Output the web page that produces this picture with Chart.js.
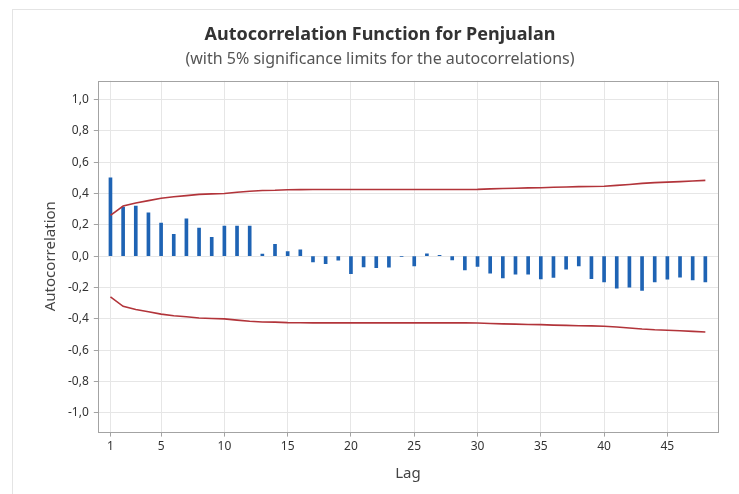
<!DOCTYPE html>
<html>
<head>
<meta charset="utf-8">
<script src="https://cdn.jsdelivr.net/npm/chart.js@4.4.1/dist/chart.umd.min.js"></script>
<style>
    html, body { margin: 0; padding: 0; background: #fff; }
    #frame {
        position: absolute; left: 12px; top: 9px; width: 760px; height: 520px;
        border: 1px solid #e4e4e4;
    }
    #wrap { position: absolute; left: 0; top: 0; width: 739px; height: 494px; }
</style>
</head>
<body>
<div id="frame"></div>
<div id="wrap"><canvas id="acfChart"></canvas></div>
<script>
// Lags e valores
const lags = [1, 2, 3, 4, 5, 6, 7, 8, 9, 10, 11, 12, 13, 14, 15, 16, 17, 18, 19, 20, 21, 22, 23, 24,
    25, 26, 27, 28, 29, 30, 31, 32, 33, 34, 35, 36, 37, 38, 39, 40, 41, 42, 43, 44, 45, 46, 47, 48];

const acfValues = [0.50, 0.313, 0.32, 0.277, 0.211, 0.139, 0.239, 0.179, 0.12, 0.192, 0.192, 0.192,
    0.013, 0.075, 0.03, 0.041, -0.036, -0.047, -0.025, -0.112, -0.068, -0.074, -0.07, -0.003,
    -0.062, 0.015, 0.005, -0.023, -0.087, -0.066, -0.109, -0.138, -0.115, -0.115, -0.145, -0.136,
    -0.083, -0.062, -0.143, -0.164, -0.204, -0.198, -0.219, -0.164, -0.147, -0.134, -0.151, -0.164];

const upperLimit = [0.26, 0.32, 0.34, 0.355, 0.37, 0.38, 0.387, 0.395, 0.398, 0.40, 0.408, 0.415,
    0.42, 0.421, 0.424, 0.425, 0.426, 0.426, 0.426, 0.426, 0.426, 0.426, 0.426, 0.426,
    0.426, 0.426, 0.426, 0.426, 0.426, 0.427, 0.43, 0.432, 0.434, 0.436, 0.437, 0.44,
    0.442, 0.444, 0.445, 0.447, 0.452, 0.458, 0.465, 0.47, 0.473, 0.476, 0.48, 0.484];

const lowerLimit = [-0.26, -0.32, -0.34, -0.355, -0.37, -0.38, -0.387, -0.395, -0.398, -0.40, -0.408, -0.415,
    -0.42, -0.421, -0.424, -0.425, -0.426, -0.426, -0.426, -0.426, -0.426, -0.426, -0.426, -0.426,
    -0.426, -0.426, -0.426, -0.426, -0.426, -0.427, -0.43, -0.432, -0.434, -0.436, -0.437, -0.44,
    -0.442, -0.444, -0.445, -0.447, -0.452, -0.458, -0.465, -0.47, -0.473, -0.476, -0.48, -0.484];

const xTicks = [1, 5, 10, 15, 20, 25, 30, 35, 40, 45];
const yTicks = [-1.0, -0.8, -0.6, -0.4, -0.2, 0.0, 0.2, 0.4, 0.6, 0.8, 1.0];

const fontFamily = '"Noto Sans", "Open Sans", sans-serif';

// moldura cinza em volta da área do gráfico
const framePlugin = {
    id: 'frame',
    afterDraw(chart) {
        const a = chart.chartArea;
        const ctx = chart.ctx;
        ctx.save();
        ctx.strokeStyle = '#a3a3a3';
        ctx.lineWidth = 1;
        ctx.strokeRect(Math.round(a.left) + 0.5, Math.round(a.top) + 0.5,
            Math.round(a.right - a.left), Math.round(a.bottom - a.top));
        ctx.restore();
    }
};

function toPoints(values) {
    return lags.map((lag, i) => ({ x: lag, y: values[i] }));
}

const ctx = document.getElementById('acfChart').getContext('2d');
const chart = new Chart(ctx, {
    data: {
        datasets: [
            {
                type: 'line',
                data: toPoints(upperLimit),
                borderColor: '#b2343a',
                borderWidth: 1.6,
                pointRadius: 0,
                tension: 0,
                order: 0
            },
            {
                type: 'line',
                data: toPoints(lowerLimit),
                borderColor: '#b2343a',
                borderWidth: 1.6,
                pointRadius: 0,
                tension: 0,
                order: 0
            },
            {
                type: 'bar',
                data: toPoints(acfValues),
                backgroundColor: '#1e63b4',
                barThickness: 3,
                order: 1
            }
        ]
    },
    options: {
        responsive: true,
        maintainAspectRatio: false,
        animation: false,
        layout: { padding: { left: 42, right: 21, top: 0, bottom: 11 } },
        plugins: {
            legend: { display: false },
            tooltip: { enabled: false },
            title: {
                display: true,
                text: 'Autocorrelation Function for Penjualan',
                color: '#333',
                font: { family: fontFamily, size: 18, weight: 'bold' },
                padding: { top: 24, bottom: 0 }
            },
            subtitle: {
                display: true,
                text: '(with 5% significance limits for the autocorrelations)',
                color: '#555',
                font: { family: fontFamily, size: 16 },
                padding: { top: 4, bottom: 12 }
            }
        },
        scales: {
            x: {
                type: 'linear',
                min: 0,
                max: 49,
                offset: false,
                afterBuildTicks: axis => { axis.ticks = xTicks.map(v => ({ value: v })); },
                ticks: {
                    color: '#333',
                    font: { family: fontFamily, size: 12 },
                    padding: 3,
                    maxRotation: 0,
                    callback: v => String(v)
                },
                grid: { color: '#e6e6e6', tickColor: '#a3a3a3', tickLength: 5, offset: false },
                border: { display: false },
                title: {
                    display: true,
                    text: 'Lag',
                    color: '#444',
                    font: { family: fontFamily, size: 15 },
                    padding: { top: 8, bottom: 0 }
                }
            },
            y: {
                min: -1.12,
                max: 1.12,
                afterBuildTicks: axis => { axis.ticks = yTicks.map(v => ({ value: v })); },
                ticks: {
                    color: '#333',
                    font: { family: fontFamily, size: 12 },
                    padding: 5,
                    callback: v => v.toFixed(1).replace('.', ',')
                },
                grid: { color: '#e6e6e6', tickColor: '#a3a3a3', tickLength: 4 },
                border: { display: false },
                title: {
                    display: true,
                    text: 'Autocorrelation',
                    color: '#444',
                    font: { family: fontFamily, size: 15 },
                    padding: { top: 0, bottom: 3 }
                }
            }
        }
    },
    plugins: [framePlugin]
});
</script>
</body>
</html>
